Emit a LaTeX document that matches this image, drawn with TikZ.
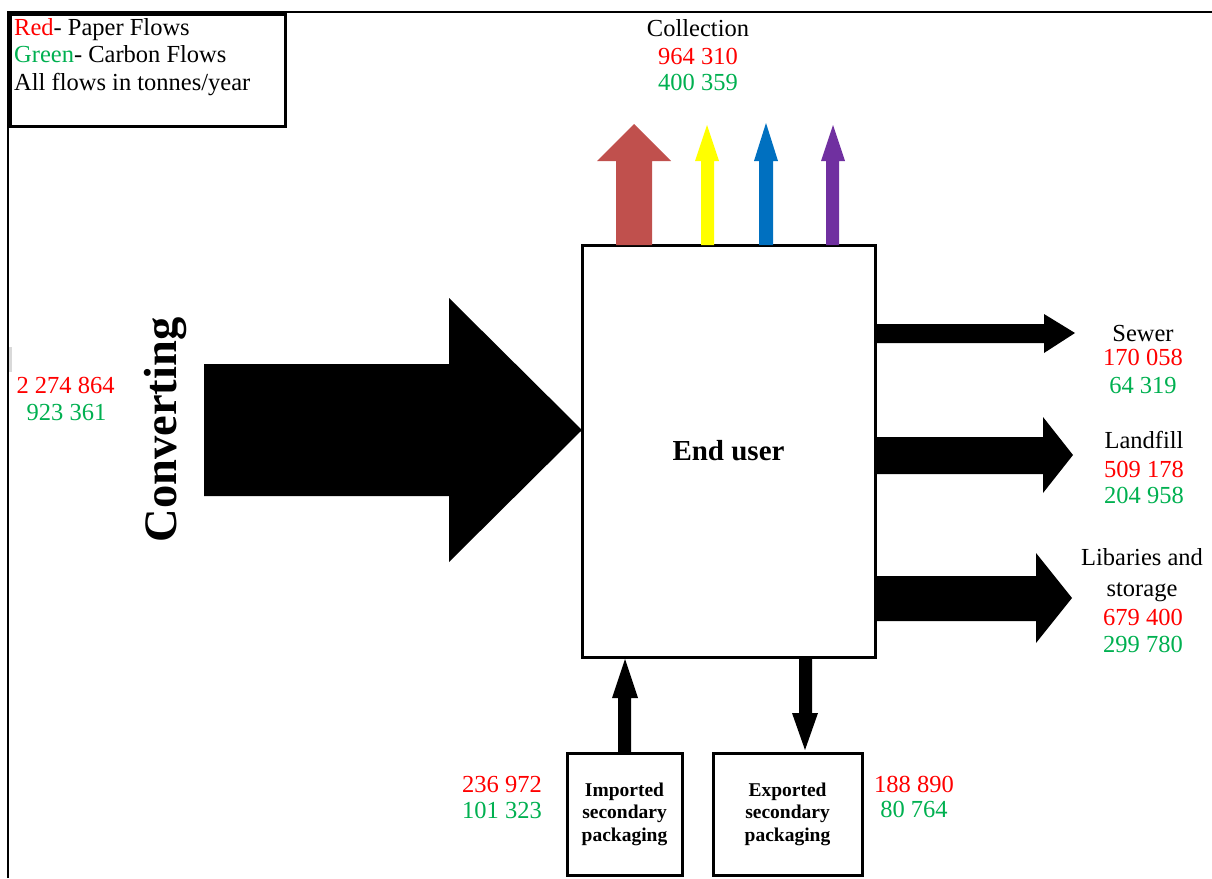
\documentclass[tikz,border=0pt]{standalone}
\usepackage{fontspec}
\setmainfont{Liberation Serif}
\definecolor{paper}{HTML}{FF0000}
\definecolor{carbon}{HTML}{00B050}
\definecolor{flowred}{HTML}{C0504D}
\definecolor{flowyellow}{HTML}{FFFF00}
\definecolor{flowblue}{HTML}{0070C0}
\definecolor{flowpurple}{HTML}{7030A0}
\begin{document}
\begin{tikzpicture}[x=1pt,y=-1pt,
  txt/.style={anchor=base, inner sep=0pt, font=\fontsize{24.5}{28}\selectfont},
  papertxt/.style={txt, text=paper},
  carbontxt/.style={txt, text=carbon},
  legendtxt/.style={txt, anchor=base west},
  box/.style={draw, line width=3pt, inner sep=0pt},
  smallbox/.style={box, minimum width=115pt, minimum height=122pt, align=center,
    font=\bfseries\fontsize{19.5}{22.5}\selectfont},
  flow/.style={fill=black}]
\useasboundingbox (0,0) rectangle (1212,878);

% page frame
\draw[line width=2pt] (8,878) -- (8,12) -- (1212,12);
\draw[gray!30, line width=2.5pt] (10.5,347) -- (10.5,372);

% legend
\node[draw, line width=2.5pt, anchor=north west, minimum width=275pt, minimum height=112pt, inner sep=0pt] (legend) at (9,13) {};
\node[legendtxt] (l1) at (14,35) {\textcolor{paper}{Red}- Paper Flows};
\node[legendtxt] (l2) at (14,62) {\textcolor{carbon}{Green}- Carbon Flows};
\node[legendtxt] (l3) at (14,90) {All flows in tonnes/year};

% central process
\node[box, minimum width=293pt, minimum height=412pt, font=\bfseries\fontsize{29}{32}\selectfont] (enduser) at (728.5,451) {End user};

% input from converting
\node[txt, rotate=90, font=\bfseries\fontsize{46.5}{50}\selectfont] (conv) at (176,430) {Converting};
\fill[flow] (204,364) -- (449,364) -- (449,298) -- (582,430) -- (449,562) -- (449,496) -- (204,496) -- cycle;
\node[papertxt] (convp) at (65.5,393) {2 274 864};
\node[carbontxt] (convc) at (66.5,420) {923 361};

% collection flows (upwards)
\fill[flowred] (616,245) -- (616,161) -- (597,161) -- (634,124) -- (671,161) -- (652,161) -- (652,245) -- cycle;
\fill[flowyellow] (701,245) -- (701,161) -- (695,161) -- (707,125) -- (719,161) -- (714,161) -- (714,245) -- cycle;
\fill[flowblue] (759,245) -- (759,161) -- (754,161) -- (766,123) -- (778,161) -- (773,161) -- (773,245) -- cycle;
\fill[flowpurple] (826,245) -- (826,161) -- (821,161) -- (833,125) -- (845,161) -- (839,161) -- (839,245) -- cycle;
\node[txt] (coll) at (698,36) {Collection};
\node[papertxt] (collp) at (698,64.5) {964 310};
\node[carbontxt] (collc) at (698,90.5) {400 359};

% outputs to the right
\fill[flow] (875,324) -- (1044,324) -- (1044,314) -- (1075,333) -- (1044,353) -- (1044,343) -- (875,343) -- cycle;
\fill[flow] (875,437) -- (1043,437) -- (1043,417) -- (1073,455) -- (1043,493) -- (1043,474) -- (875,474) -- cycle;
\fill[flow] (875,576) -- (1036,576) -- (1036,553) -- (1072,598) -- (1036,643) -- (1036,621) -- (875,621) -- cycle;

\node[txt] (sewer) at (1143,341) {Sewer};
\node[papertxt] (sewerp) at (1143,365) {170 058};
\node[carbontxt] (sewerc) at (1143,393) {64 319};

\node[txt] (landfill) at (1144,448) {Landfill};
\node[papertxt] (landfillp) at (1144,477) {509 178};
\node[carbontxt] (landfillc) at (1144,503) {204 958};

\node[txt] (lib1) at (1142,565) {Libaries and};
\node[txt] (lib2) at (1142,596) {storage};
\node[papertxt] (libp) at (1143,625) {679 400};
\node[carbontxt] (libc) at (1143,652) {299 780};

% secondary packaging
\node[smallbox] (imp) at (624.5,814) {Imported\\secondary\\packaging};
\node[smallbox, minimum width=149pt] (exp) at (787.5,814) {Exported\\secondary\\packaging};
\fill[flow] (618,753) -- (618,698) -- (612,698) -- (625,659) -- (638,698) -- (631,698) -- (631,753) -- cycle;
\fill[flow] (799,657) -- (799,713) -- (792,713) -- (805,750) -- (818,713) -- (812,713) -- (812,657) -- cycle;

\node[papertxt] (impp) at (502,792) {236 972};
\node[carbontxt] (impc) at (502,818) {101 323};
\node[papertxt] (expp) at (914,792) {188 890};
\node[carbontxt] (expc) at (914,817) {80 764};
\end{tikzpicture}
\end{document}
